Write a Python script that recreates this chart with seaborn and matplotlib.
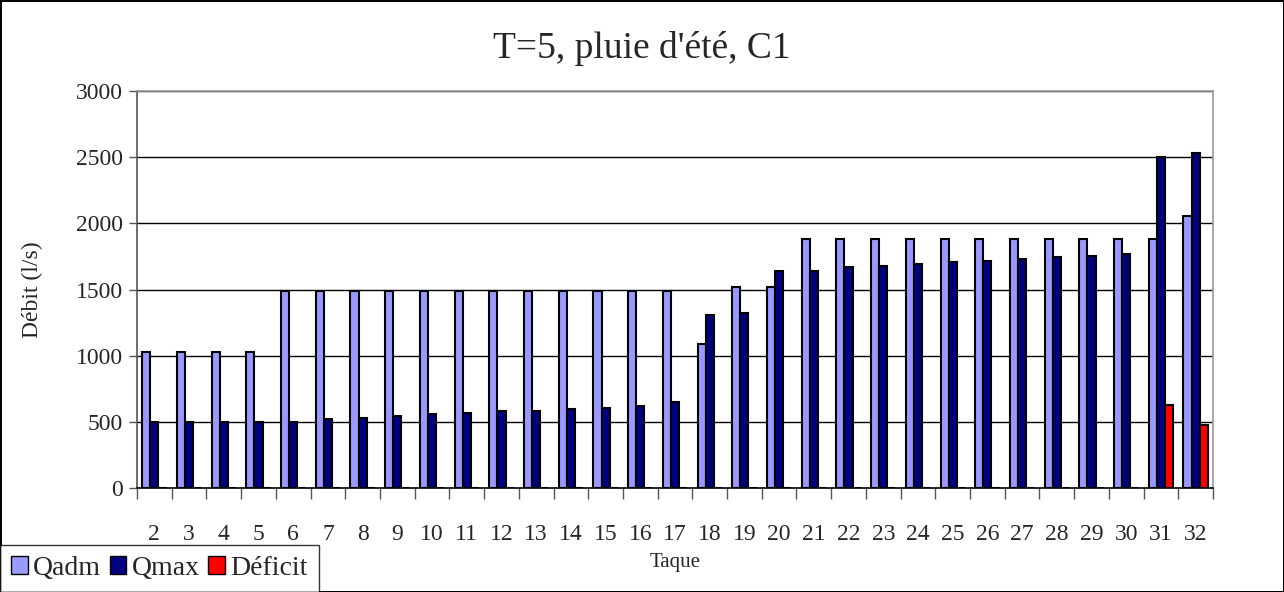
import numpy as np
import pandas as pd
import seaborn as sns
import matplotlib.pyplot as plt

# data
taques = [str(i) for i in range(2, 33)]
qadm = [1025, 1025, 1025, 1025, 1485, 1485, 1485, 1485, 1485, 1485, 1485,
        1485, 1485, 1485, 1485, 1485, 1090, 1520, 1520, 1880, 1880, 1880,
        1880, 1880, 1880, 1880, 1880, 1880, 1880, 1880, 2055]
qmax = [500, 500, 500, 500, 500, 518, 530, 543, 557, 570, 580,
        580, 595, 607, 622, 648, 1310, 1322, 1643, 1643, 1668, 1680,
        1693, 1706, 1718, 1731, 1744, 1756, 1769, 2505, 2530]
deficit = [0] * 29 + [625, 475]

sns.set_style('white')
plt.rcParams['font.family'] = ['Liberation Serif', 'DejaVu Serif']

df = pd.DataFrame({
    'Taque': taques * 3,
    'Debit': qadm + qmax + deficit,
    'Serie': ['Qadm'] * 31 + ['Qmax'] * 31 + ['Déficit'] * 31,
})
colors = {'Qadm': '#9999ff', 'Qmax': '#000080', 'Déficit': '#ff0000'}

fig = plt.figure(figsize=(12.84, 5.92), dpi=100)
ax = fig.add_axes([137 / 1284, 1 - 488 / 592, (1213 - 137) / 1284, (488 - 91) / 592])

sns.barplot(data=df, x='Taque', y='Debit', hue='Serie', palette=colors,
            order=taques, hue_order=['Qadm', 'Qmax', 'Déficit'],
            width=0.7, edgecolor='black', linewidth=1.5, saturation=1,
            errorbar=None, ax=ax, zorder=3)

ax.set_ylim(0, 3000)
ax.set_xlim(-0.5, 30.5)
ax.set_yticks(range(0, 3001, 500))
for y in range(500, 3001, 500):
    ax.axhline(y, color='black', lw=1, zorder=1)

# ticks between categories, labels under centers
ax.set_xticks(np.arange(-0.5, 31, 1), minor=True)
ax.tick_params(axis='x', which='major', length=0, pad=26, labelsize=17)
ax.tick_params(axis='x', which='minor', length=8, width=1, color='#555555', direction='out')
ax.tick_params(axis='y', length=6, width=1, color='#555555', direction='out', labelsize=17, pad=4)
ax.tick_params(bottom=True, left=True, which='both')

for side in ['top', 'right']:
    ax.spines[side].set_color('#999999')
ax.spines['left'].set_color('#555555')
ax.spines['bottom'].set_color('black')
for s in ax.spines.values():
    s.set_linewidth(1.2)

ax.set_xlabel('Taque', fontsize=15, labelpad=6)
ax.set_ylabel('Débit (l/s)', fontsize=17)
ax.yaxis.set_label_coords(-(137 - 43) / 1076, 0.5)
fig.suptitle("T=5, pluie d'été, C1", fontsize=27, y=1 - 48 / 592, va='center')

ax.get_legend().remove()
handles = [plt.Rectangle((0, 0), 1, 1, facecolor=colors[k], edgecolor='black') for k in colors]
leg = fig.legend(handles, list(colors), loc='lower left', bbox_to_anchor=(0, 0),
                 ncol=3, fontsize=20, frameon=True, fancybox=False,
                 handlelength=0.6, handleheight=0.6, handletextpad=0.2,
                 columnspacing=0.3, borderpad=0.4, borderaxespad=0)
leg.get_frame().set_edgecolor('black')
leg.get_frame().set_linewidth(1)

fig.patch.set_edgecolor('black')
fig.patch.set_linewidth(2)
fig.savefig('out.png', dpi=100, facecolor='white', edgecolor='black')
